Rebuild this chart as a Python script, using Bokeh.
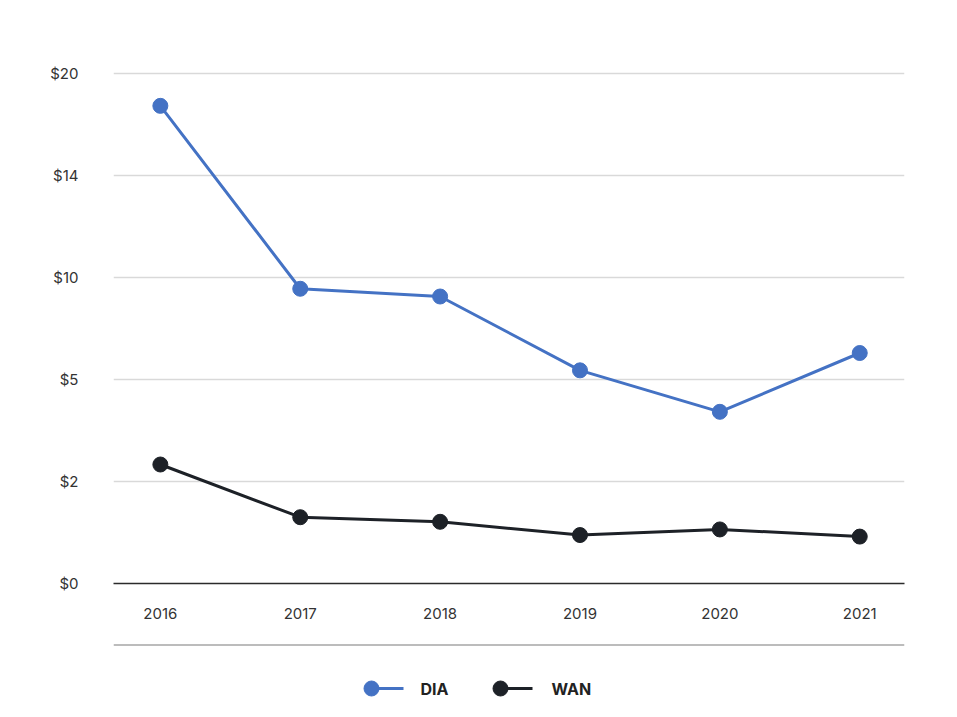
import numpy as np
from bokeh.plotting import figure
from bokeh.models import FixedTicker, Range1d, ColumnDataSource
from bokeh.layouts import column
from bokeh.core.properties import value
from bokeh.embed import file_html
from bokeh.resources import INLINE

# ---- data ----
years = [2016, 2017, 2018, 2019, 2020, 2021]
dia = [18.1, 9.45, 9.07, 5.45, 4.05, 6.3]
wan = [2.5, 1.3, 1.21, 0.95, 1.06, 0.92]
series_names = ["DIA", "WAN"]
series_colors = ["#4472c4", "#1d2127"]
y_tick_values = [0, 2, 5, 10, 14, 20]
y_tick_labels = ["$0", "$2", "$5", "$10", "$14", "$20"]

FONT = "Inter"

# the value axis is evenly spaced between its tick values
tick_pos = list(range(len(y_tick_values)))
def to_axis(vals):
    return np.interp(vals, y_tick_values, tick_pos)

p = figure(width=957, height=640, output_backend="svg", toolbar_location=None,
           x_range=Range1d(2015.665, 2021.32), y_range=Range1d(0, 5.03),
           min_border_left=113, min_border_right=53, min_border_top=70, min_border_bottom=57)
p.outline_line_color = None
p.background_fill_color = "white"
p.border_fill_color = "white"

for name, vals, col in zip(series_names, [dia, wan], series_colors):
    src = ColumnDataSource(dict(x=years, y=to_axis(vals), v=vals))
    p.line("x", "y", source=src, line_color=col, line_width=3)
    p.scatter("x", "y", source=src, size=15, fill_color=col, line_color=col)

p.xaxis.ticker = FixedTicker(ticks=years)
p.xaxis.major_tick_line_color = None
p.xaxis.minor_tick_line_color = None
p.xaxis.axis_line_color = "#2b2b2b"
p.xaxis.axis_line_width = 1.5
p.xaxis.major_label_standoff = 18
p.xaxis.major_label_text_font = FONT
p.xaxis.major_label_text_font_size = "15px"
p.xaxis.major_label_text_color = "#333333"

p.yaxis.ticker = FixedTicker(ticks=tick_pos)
p.yaxis.major_label_overrides = {i: lab for i, lab in zip(tick_pos, y_tick_labels)}
p.yaxis.axis_line_color = None
p.yaxis.major_tick_line_color = None
p.yaxis.minor_tick_line_color = None
p.yaxis.major_label_standoff = 29
p.yaxis.major_label_text_font = FONT
p.yaxis.major_label_text_font_size = "15px"
p.yaxis.major_label_text_color = "#333333"

p.xgrid.grid_line_color = None
p.ygrid.grid_line_color = "#d9d9d9"
p.ygrid.grid_line_width = 1.5

# ---- legend strip (frame aligned with the chart frame; ranges in page pixels) ----
q = figure(width=957, height=77, output_backend="svg", toolbar_location=None,
           x_range=Range1d(113, 904), y_range=Range1d(717, 640),
           min_border_left=113, min_border_right=53,
           min_border_top=0, min_border_bottom=0)
q.axis.visible = False
q.grid.visible = False
q.outline_line_color = None
q.border_fill_color = "white"

q.segment(x0=[113], y0=[644.5], x1=[904], y1=[644.5], line_color="#a6a6a6", line_width=1.5)

mx = [371, 500]
tx = [420, 551]
ly = [688, 688]
q.segment(x0=mx, y0=ly, x1=[m + 32 for m in mx], y1=ly, line_color=series_colors, line_width=3)
q.scatter(x=mx, y=ly, size=15, fill_color=series_colors, line_color=series_colors)
q.text(x=tx, y=ly, text=series_names, text_font=value(FONT), text_font_size="16px",
       text_font_style="bold", text_color="#222222", text_baseline="middle", text_align="left")

layout = column(p, q, spacing=0)
open("out.html", "w").write(file_html(layout, INLINE))
